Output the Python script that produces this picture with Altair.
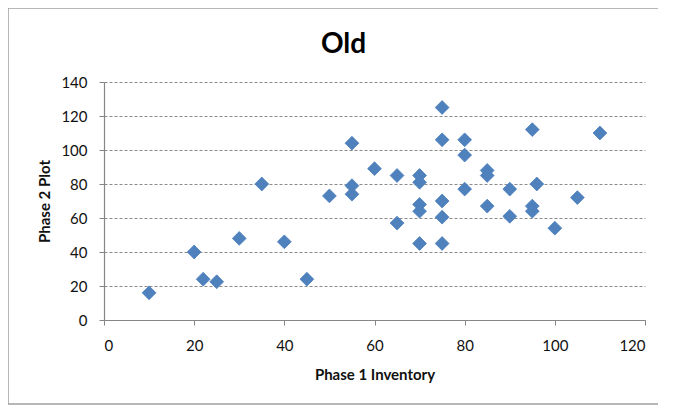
import altair as alt
import pandas as pd

inventory = [10, 20, 22, 25, 30, 35, 40, 45, 50, 55, 55, 55, 60, 65, 65,
             70, 70, 70, 70, 70, 75, 75, 75, 75, 75, 80, 80, 80, 85, 85, 85,
             90, 90, 95, 95, 95, 96, 100, 105, 110]
plot_vals = [16, 40, 24, 22.5, 48, 80, 46, 24, 73, 104, 79, 74, 89, 85, 57,
             85, 81, 68, 64, 45, 125, 106, 70, 60.5, 45, 106, 97, 77, 88, 85, 67,
             77, 61, 112, 67, 64, 80, 54, 72, 110]
x_ticks = [0, 20, 40, 60, 80, 100, 120]
y_ticks = [0, 20, 40, 60, 80, 100, 120, 140]

df = pd.DataFrame({"Phase 1 Inventory": inventory, "Phase 2 Plot": plot_vals})

FONT = "Lato"

frame = alt.Chart(pd.DataFrame({"a": [0]})).mark_rect(
    fill=None, stroke="#a0a0a0", strokeWidth=1.5
).encode(
    x=alt.value(-96), x2=alt.value(600), y=alt.value(-74), y2=alt.value(322)
)

points = alt.Chart(df).mark_point(
    shape="diamond", filled=True, size=190, color="#4f81bd", opacity=1,
    stroke="#4a7ebb", strokeWidth=0.8
).encode(
    x=alt.X("Phase 1 Inventory:Q",
            scale=alt.Scale(domain=[0, 120], nice=False, zero=True),
            axis=alt.Axis(values=x_ticks, grid=False, title="Phase 1 Inventory",
                          labelPadding=13, titlePadding=14)),
    y=alt.Y("Phase 2 Plot:Q",
            scale=alt.Scale(domain=[0, 140], nice=False),
            axis=alt.Axis(values=y_ticks, grid=True, title="Phase 2 Plot",
                          labelPadding=12, titlePadding=8,
                          gridDash=[3, 2], gridColor="#8a8a8a")),
)

chart = alt.layer(frame, points).properties(
    width=541,
    height=238,
    padding={"left": 96, "top": 74, "right": 13, "bottom": 86},
    autosize=alt.AutoSizeParams(type="none"),
    title=alt.TitleParams("Old", fontSize=28, font=FONT, fontWeight="bold",
                          color="#000000", anchor="middle", dx=-31,
                          baseline="alphabetic", offset=-74),
    background="white",
).configure_view(stroke=None).configure_axis(
    labelFont=FONT, labelFontSize=15, labelColor="#111111",
    titleFont=FONT, titleFontSize=15, titleFontWeight="bold", titleColor="#111111",
    domainColor="#868686", tickColor="#868686", tickSize=5, domainWidth=1.2,
)

chart.save("out.html", embed_options={"renderer": "svg", "actions": False})
